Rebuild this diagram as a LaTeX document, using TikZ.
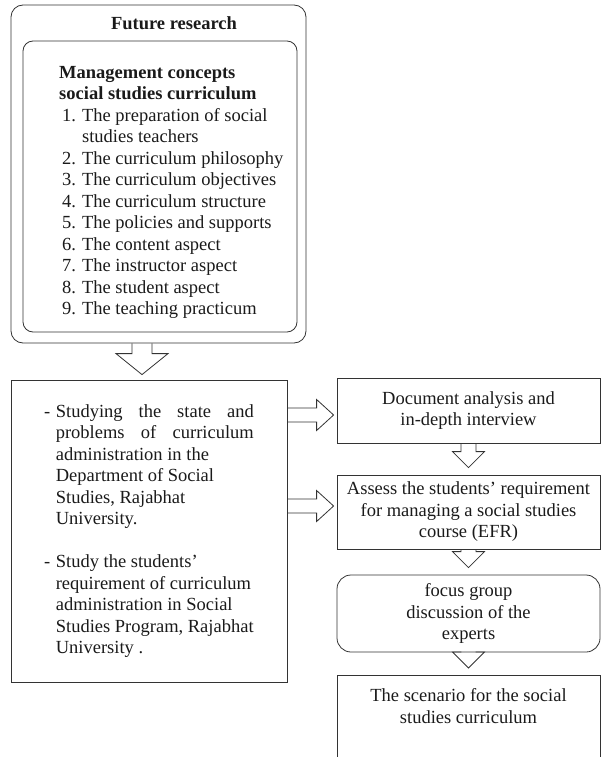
\documentclass[tikz,border=0pt]{standalone}
\usepackage{fontspec}
\setmainfont{Liberation Serif}
\usetikzlibrary{calc,backgrounds}
\definecolor{LineGray}{HTML}{333333}
\definecolor{TextGray}{HTML}{1A1A1A}

\newcommand{\spreadline}[1]{\makebox[198pt][s]{#1}}
% block arrows: tail, tip, shaft half width, head half width, head length
\newcommand{\blockdown}[5]{%
  \draw[blockline] let \p1=(#1), \p2=(#2) in
    (\x1-#3,\y1) -- (\x1-#3,\y2+#5) -- (\x1-#4,\y2+#5) -- (\x1,\y2)
    -- (\x1+#4,\y2+#5) -- (\x1+#3,\y2+#5) -- (\x1+#3,\y1);}
\newcommand{\blockright}[5]{%
  \draw[blockline] let \p1=(#1), \p2=(#2) in
    (\x1,\y1+#3) -- (\x2-#5,\y1+#3) -- (\x2-#5,\y1+#4) -- (\x2,\y1)
    -- (\x2-#5,\y1-#4) -- (\x2-#5,\y1-#3) -- (\x1,\y1-#3);}

\begin{document}
\begin{tikzpicture}[x=1pt,y=1pt,
    every node/.style={font=\fontsize{18.5}{21.5}\selectfont,text=TextGray},
    box/.style={draw=LineGray,line width=0.8pt,inner sep=0pt},
    roundbox/.style={box,rounded corners=12pt},
    blockline/.style={draw=LineGray,line width=0.8pt,line join=miter}
  ]
  \useasboundingbox (0,0) rectangle (601,-757);
  \clip (0,0) rectangle (601,-757);

  % left column
  \node[roundbox,minimum width=295pt,minimum height=338pt] (future) at (158.5,-174) {};
  \node[font=\fontsize{18.5}{21.5}\selectfont\bfseries] (futuretitle) at (174,-23) {Future research};
  \node[roundbox,rounded corners=10pt,minimum width=274pt,minimum height=291pt] (concepts) at (160,-186.5) {};
  \node[anchor=north west,inner sep=0pt] (conceptlist) at (59,-63) {%
    \begin{tabular}{@{\hspace{3pt}}l@{\hspace{6pt}}l@{}}
      \multicolumn{2}{@{}l@{}}{\bfseries Management concepts}\\
      \multicolumn{2}{@{}l@{}}{\bfseries social studies curriculum}\\
      1. & The preparation of social\\
         & studies teachers\\
      2. & The curriculum philosophy\\
      3. & The curriculum objectives\\
      4. & The curriculum structure\\
      5. & The policies and supports\\
      6. & The content aspect\\
      7. & The instructor aspect\\
      8. & The student aspect\\
      9. & The teaching practicum
    \end{tabular}};

  \node[box,minimum width=276pt,minimum height=302pt] (study) at (149,-531) {%
    \begin{tabular}{@{}l@{\hspace{5.5pt}}l@{}}
      - & \spreadline{Studying the state and}\\
        & \spreadline{problems of curriculum}\\
        & administration in the\\
        & Department of Social\\
        & Studies, Rajabhat\\
        & University.\\[21.5pt]
      - & Study the students'\\
        & requirement of curriculum\\
        & administration in Social\\
        & Studies Program, Rajabhat\\
        & University .
    \end{tabular}};

  % right column
  \node[box,minimum width=263pt,minimum height=65pt,align=center] (docs) at (468.5,-410.5)
    {Document analysis and\\in-depth interview};
  \node[box,minimum width=263pt,minimum height=74pt,align=center] (assess) at (468.5,-512)
    {Assess the students' requirement\\for managing a social studies\\course (EFR)};
  \node[roundbox,rounded corners=14pt,minimum width=263pt,minimum height=77pt,align=center] (focus)
    at (468.5,-613.5) {focus group\\discussion of the\\experts};
  \node[box,minimum width=263pt,minimum height=110pt,anchor=north] (scenario) at (468.5,-675) {};
  \node[align=center] (scenariotext) at ([yshift=-31pt]scenario.north)
    {The scenario for the social\\studies curriculum};

  % block arrows
  \blockdown{future.south -| 142,0}{$(study.north)+(0,5)$}{10}{26}{21}
  \blockright{study.east |- 0,-415}{$(docs.west)+(-3,0)$}{7}{15.5}{17}
  \blockright{study.east |- 0,-506}{$(assess.west)+(-3,0)$}{7}{15.5}{17}
  \blockdown{docs.south}{$(assess.north)+(0,7)$}{7.5}{16}{16}
  \blockdown{assess.south}{$(focus.north)+(0,7)$}{7.5}{16}{16}
  \blockdown{focus.south}{$(scenario.north)+(0,7)$}{7.5}{16}{16}
\end{tikzpicture}
\end{document}
